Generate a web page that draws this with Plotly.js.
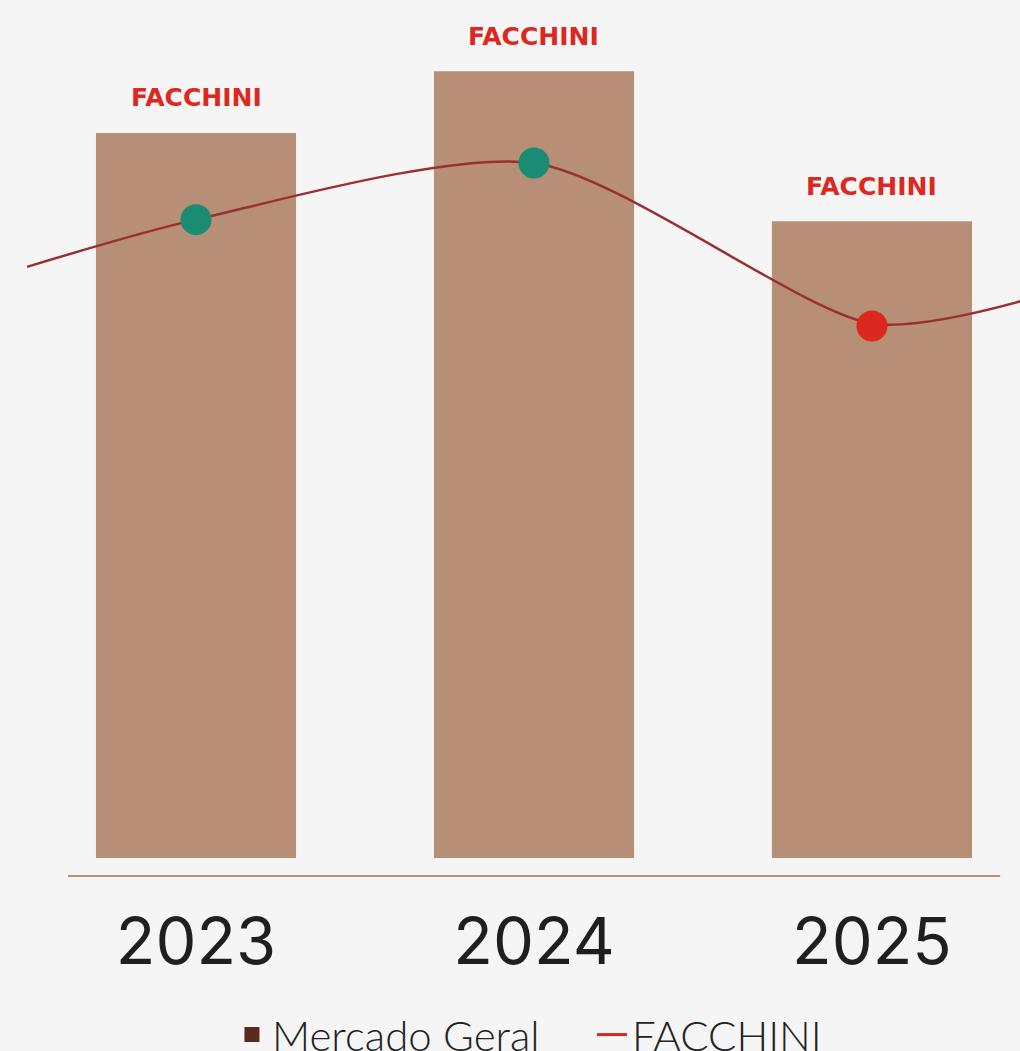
<!DOCTYPE html>
<html>
<head>
<meta charset="utf-8">
<script src="https://cdn.plot.ly/plotly-3.0.1.min.js"></script>
<style>html,body{margin:0;padding:0;background:#f5f5f5;}#chart{width:1020px;height:1051px;}</style>
</head>
<body>
<div id="chart"></div>
<script>
// Data (relative scale, hidden value axis)
const categories = ["2023", "2024", "2025"];
const mercadoGeral = [84.5, 91.7, 74.2];
const barLabels = ["FACCHINI", "FACCHINI", "FACCHINI"];
// FACCHINI yearly points
const facchiniY = [74.4, 81.0, 62.0];
const facchiniColors = ["#1a8c74", "#1a8c74", "#dc281e"];
// FACCHINI line: yearly points plus the line's run-in / run-out ends
const facchiniLineX = [-0.5, 0, 1, 2, 2.45];
const facchiniLineY = [68.9, 74.4, 81.0, 62.3, 65.0];

const idx = categories.map((c, i) => i);

const traces = [
  {
    type: "bar", x: idx, y: mercadoGeral, width: 0.592,
    marker: {color: "#b78f76"}, showlegend: false, hoverinfo: "skip"
  },
  {
    type: "scatter", mode: "lines", x: facchiniLineX, y: facchiniLineY,
    line: {color: "#9b3030", width: 2.5, shape: "spline", smoothing: 0.75},
    showlegend: false
  },
  {
    type: "scatter", mode: "markers", x: idx, y: facchiniY,
    marker: {color: facchiniColors, size: 31, opacity: 1, line: {width: 0}},
    showlegend: false, cliponaxis: false
  },
  {
    type: "scatter", mode: "markers", x: [null], y: [null], name: "Mercado Geral",
    marker: {symbol: "square", size: 15, color: "#5a2a1e"}
  },
  {
    type: "scatter", mode: "lines", x: [null], y: [null], name: "FACCHINI",
    line: {color: "#dc281e", width: 3}
  }
];

const annotations = idx.map(i => ({
  x: i, y: mercadoGeral[i], xref: "x", yref: "y",
  text: barLabels[i], showarrow: false, yanchor: "middle", yshift: 35,
  font: {family: "DejaVu Sans", size: 25, weight: "bold", color: "#dc281e"}
}));

const layout = {
  width: 1020, height: 1051,
  margin: {l: 26, r: 0, t: 0, b: 193, autoexpand: false},
  paper_bgcolor: "#f5f5f5", plot_bgcolor: "#f5f5f5",
  xaxis: {
    range: [-0.503, 2.438], tickvals: idx, ticktext: categories,
    showgrid: false, zeroline: false, showline: false, ticks: "",
    ticklabelstandoff: 40,
    tickfont: {family: "Inter, Lato, sans-serif", size: 65, color: "#1f1f1f"}
  },
  yaxis: {range: [0, 100], visible: false, showgrid: false, zeroline: false},
  shapes: [{
    type: "line", xref: "paper", yref: "paper",
    x0: 0.0423, x1: 0.980, y0: -0.021, y1: -0.021,
    line: {color: "#b89078", width: 2}
  }],
  annotations: annotations,
  legend: {
    orientation: "h", x: 0.2072, xanchor: "left", y: -0.206, yanchor: "middle",
    font: {family: "Lato, sans-serif", size: 42, weight: 300, color: "#222"},
    itemwidth: 30, entrywidth: 315, bgcolor: "rgba(0,0,0,0)"
  },
  showlegend: true
};

Plotly.newPlot("chart", traces, layout, {displayModeBar: false, staticPlot: true});
</script>
</body>
</html>
